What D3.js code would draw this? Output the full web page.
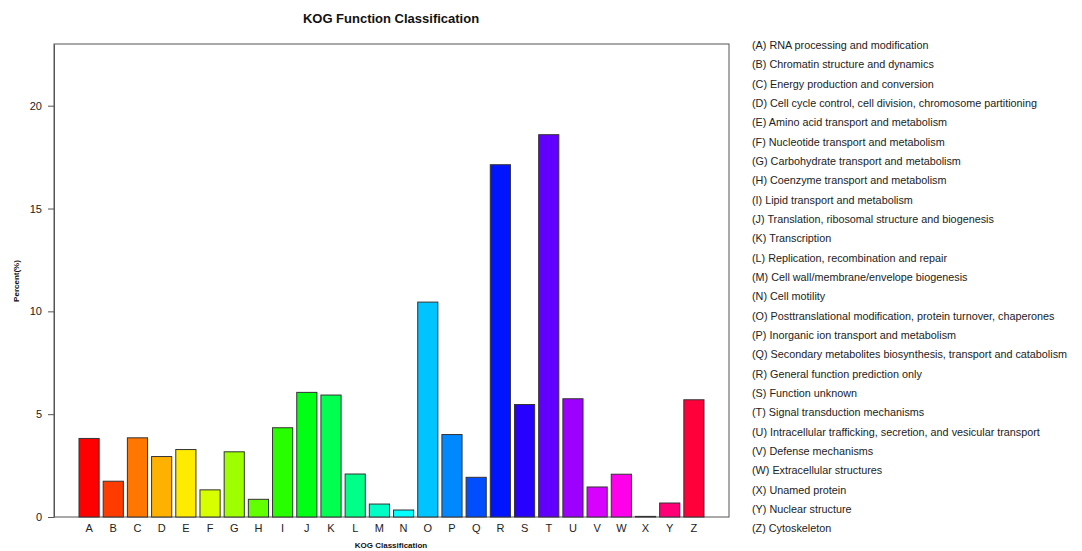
<!DOCTYPE html>
<html><head><meta charset="utf-8">
<script src="https://cdn.jsdelivr.net/npm/d3@7"></script>
<style>body{margin:0;background:#fff;} svg{display:block;font-family:"Liberation Sans",Arial,sans-serif;}</style>
</head><body>
<svg id="c" width="1082" height="551"></svg>
<script>
const categories = ["A","B","C","D","E","F","G","H","I","J","K","L","M","N","O","P","Q","R","S","T","U","V","W","X","Y","Z"];
const values = [3.82,1.74,3.85,2.94,3.28,1.32,3.17,0.86,4.34,6.06,5.93,2.09,0.63,0.34,10.45,4.01,1.93,17.13,5.47,18.59,5.75,1.46,2.08,0.03,0.68,5.70];
const colors = ["#FF0000","#FF3B00","#FF7600","#FFB100","#FFEB00","#D8FF00","#9DFF00","#62FF00","#27FF00","#00FF14","#00FF4E","#00FF89","#00FFC4","#00FFFF","#00C4FF","#0089FF","#004EFF","#0014FF","#2700FF","#6200FF","#9D00FF","#D800FF","#FF00EB","#FF00B1","#FF0076","#FF003B"];
const descriptions = ["RNA processing and modification","Chromatin structure and dynamics","Energy production and conversion","Cell cycle control, cell division, chromosome partitioning","Amino acid transport and metabolism","Nucleotide transport and metabolism","Carbohydrate transport and metabolism","Coenzyme transport and metabolism","Lipid transport and metabolism","Translation, ribosomal structure and biogenesis","Transcription","Replication, recombination and repair","Cell wall/membrane/envelope biogenesis","Cell motility","Posttranslational modification, protein turnover, chaperones","Inorganic ion transport and metabolism","Secondary metabolites biosynthesis, transport and catabolism","General function prediction only","Function unknown","Signal transduction mechanisms","Intracellular trafficking, secretion, and vesicular transport","Defense mechanisms","Extracellular structures","Unamed protein","Nuclear structure","Cytoskeleton"];
const yTicks = [0,5,10,15,20];
const title = "KOG Function Classification";
const xTitle = "KOG Classification";
const yTitle = "Percent(%)";

const svg = d3.select("#c");
const L = 54, R = 729, T = 44, B = 517;
// R barplot coordinate system: bars at [0.2+1.2i, 1.2+1.2i], xlim extended 4%
const xs = d3.scaleLinear().domain([-1.04, 32.44]).range([L, R]);
const y = d3.scaleLinear().domain([0, 23]).range([B, T]);

svg.append("rect").attr("x", L).attr("y", T).attr("width", R - L).attr("height", B - T)
  .attr("fill", "none").attr("stroke", "#555").attr("stroke-width", 1);

svg.selectAll("rect.bar").data(values).enter().append("rect")
  .attr("class", "bar")
  .attr("x", (d, i) => xs(0.2 + 1.2 * i))
  .attr("width", (d, i) => xs(1.2 + 1.2 * i) - xs(0.2 + 1.2 * i))
  .attr("y", d => y(d))
  .attr("height", d => y(0) - y(d))
  .attr("fill", (d, i) => colors[i])
  .attr("stroke", "#333").attr("stroke-width", 1);

// y axis
const ya = d3.axisLeft(y).tickValues(yTicks).tickSize(6).tickSizeOuter(0).tickPadding(6).tickFormat(d3.format("d"));
const yg = svg.append("g").attr("transform", `translate(${L},0)`).call(ya);
yg.select(".domain").attr("stroke", "#555");
yg.selectAll(".tick line").attr("stroke", "#555");
yg.selectAll("text").attr("font-size", 11).attr("fill", "#222").attr("font-family", "Liberation Sans, Arial, sans-serif");

// x labels
svg.selectAll("text.xl").data(categories).enter().append("text")
  .attr("class", "xl")
  .attr("x", (d, i) => xs(0.7 + 1.2 * i))
  .attr("y", 532)
  .attr("text-anchor", "middle").attr("font-size", 11).attr("fill", "#222")
  .text(d => d);

svg.append("text").attr("x", 391).attr("y", 23).attr("text-anchor", "middle")
  .attr("font-size", 13).attr("font-weight", "bold").attr("fill", "#111").text(title);
svg.append("text").attr("x", 391).attr("y", 548).attr("text-anchor", "middle")
  .attr("font-size", 8).attr("font-weight", "bold").attr("fill", "#111").text(xTitle);
svg.append("text").attr("transform", "translate(19,281) rotate(-90)").attr("text-anchor", "middle")
  .attr("font-size", 8).attr("font-weight", "bold").attr("fill", "#111").text(yTitle);

// legend
const ly = d3.scaleLinear().domain([0, 25]).range([45, 528.3]);
svg.selectAll("text.lg").data(categories).enter().append("text")
  .attr("class", "lg")
  .attr("x", 752)
  .attr("y", (d, i) => ly(i) + 4)
  .attr("font-size", 10.8).attr("fill", "#222")
  .text((d, i) => `(${d}) ${descriptions[i]}`);
</script>
</body></html>
